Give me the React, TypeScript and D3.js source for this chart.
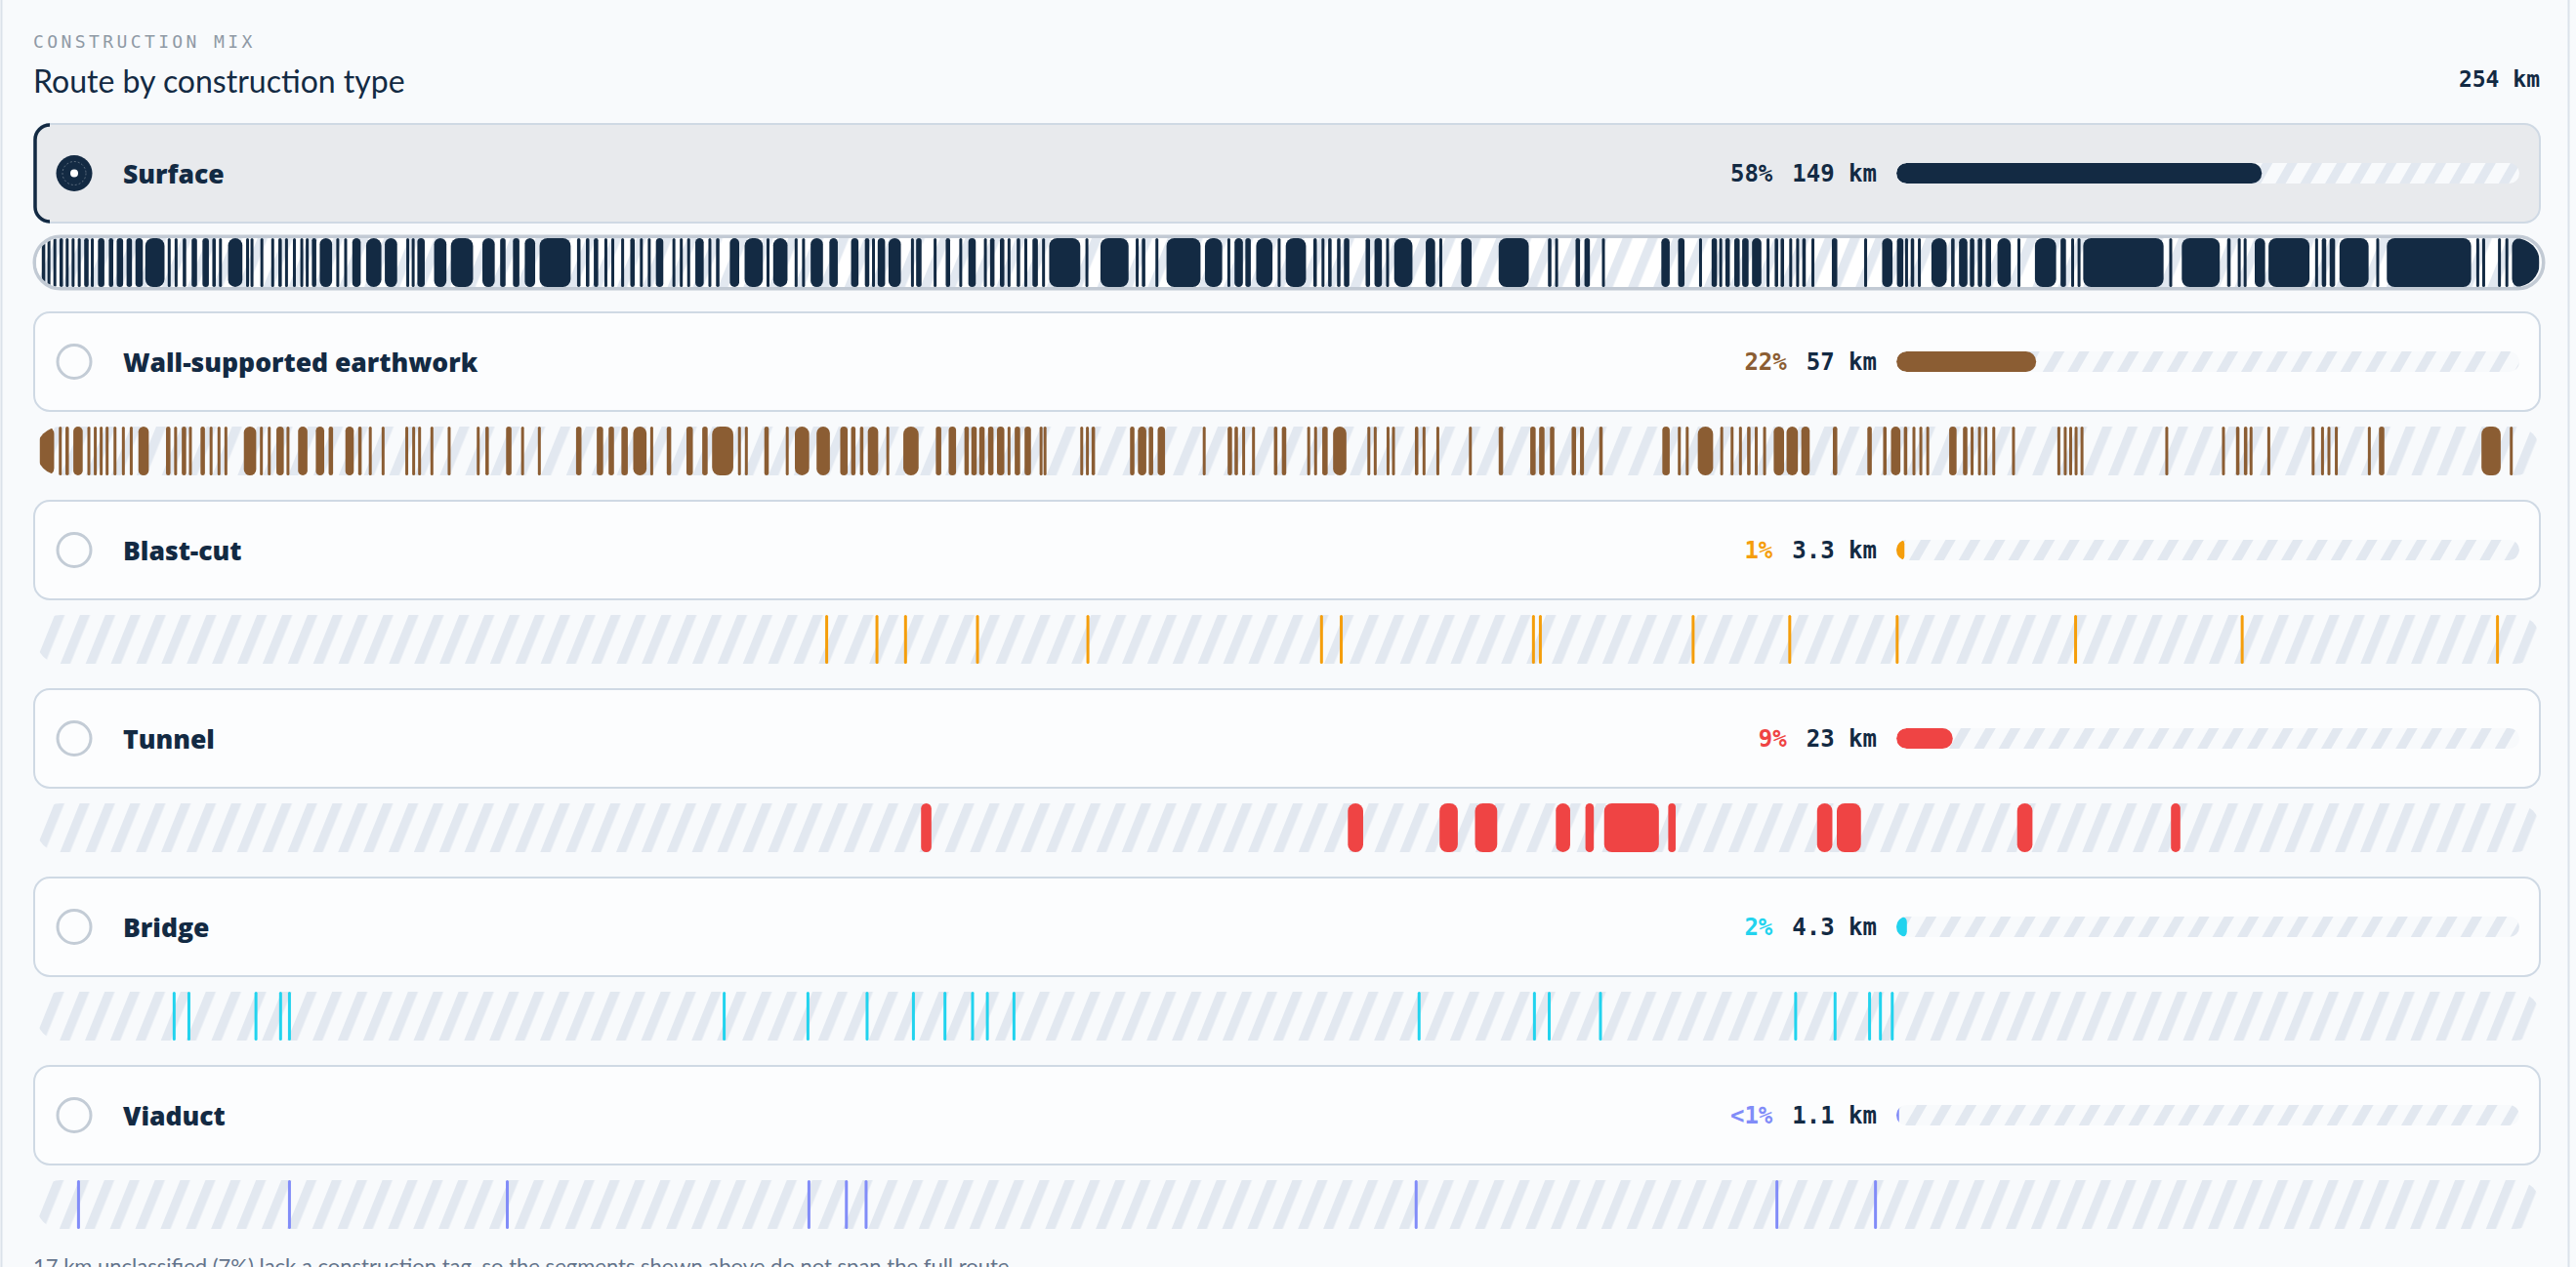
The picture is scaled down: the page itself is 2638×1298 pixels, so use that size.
import React from 'react';
import * as d3 from 'd3';

type Seg = [number, number];

// Route totals
const routeKm = 254;
const unclassifiedKm = 17;
const unclassifiedPct = '7%';

// Construction types, as listed top to bottom
const typeNames = ['Surface', 'Wall-supported earthwork', 'Blast-cut', 'Tunnel', 'Bridge', 'Viaduct'];
const typeKm = [149, 57, 3.3, 23, 4.3, 1.1];
const typePctLabels = ['58%', '22%', '1%', '9%', '2%', '<1%'];
const typeColors = ['#132a43', '#8b5d33', '#f59e0b', '#ef4444', '#22d3ee', '#818cf8'];

// Segments along the route, [start km, end km]
const surfaceSegs: Seg[] = [
  [0.5, 1.0], [1.1, 1.5], [1.7, 2.1], [2.3, 2.8], [3.0, 3.3], [3.6, 3.9], [4.15, 4.6], [4.8, 5.4], [5.5, 5.9],
  [6.2, 7.0], [7.3, 7.9], [8.1, 8.9], [9.1, 9.8], [10.0, 10.9], [11.0, 13.1], [13.3, 13.7], [14.0, 14.4],
  [14.8, 15.3], [15.7, 16.4], [16.8, 17.6], [17.8, 18.3], [18.6, 18.8], [19.4, 21.0], [21.3, 21.6], [21.7, 22.1],
  [22.7, 23.1], [23.8, 24.2], [24.5, 25.0], [25.2, 25.6], [26.0, 26.4], [26.8, 27.1], [27.4, 27.6], [27.9, 28.5],
  [28.7, 30.1], [30.4, 30.8], [31.2, 31.6], [32.0, 33.0], [33.4, 35.1], [35.3, 36.7], [37.6, 37.8], [38.1, 38.4],
  [38.6, 39.5], [40.3, 41.7], [42.0, 44.4], [45.2, 46.6], [47.0, 47.7], [48.3, 49.1], [49.5, 50.7], [51.0, 54.3],
  [54.8, 55.3], [55.7, 56.2], [56.5, 57.1], [57.6, 58.0], [58.3, 58.7], [59.3, 59.7], [60.2, 60.8], [61.2, 61.6],
  [62.0, 62.4], [62.8, 63.7], [64.5, 64.9], [65.3, 65.6], [66.0, 66.4], [66.8, 67.8], [68.2, 68.5], [68.9, 69.4],
  [70.3, 71.4], [71.8, 73.8], [74.1, 74.4], [74.7, 76.3], [76.9, 77.3], [77.7, 78.0], [78.5, 79.9], [80.4, 81.4],
  [82.6, 83.5], [84.0, 84.6], [84.8, 85.1], [85.3, 86.2], [86.4, 87.8], [88.8, 89.0], [89.2, 89.9], [91.0, 91.4],
  [92.2, 92.8], [93.6, 94.0], [94.5, 95.4], [96.1, 96.5], [96.7, 97.3], [97.7, 98.3], [98.5, 98.9], [99.4, 99.9],
  [100.2, 100.6], [101.0, 101.7], [102.0, 102.4], [102.7, 106.0], [106.4, 106.8], [107.9, 110.9], [111.5, 111.9],
  [112.1, 112.6], [113.5, 113.9], [114.6, 118.2], [118.5, 120.4], [120.8, 121.2], [121.5, 122.5], [122.6, 123.3],
  [123.7, 125.5], [125.9, 126.3], [126.7, 128.9], [129.5, 130.0], [130.4, 130.7], [131.0, 131.5], [131.9, 132.4],
  [132.6, 133.3], [134.8, 135.4], [135.7, 136.6], [136.9, 137.3], [137.7, 139.7], [140.9, 142.0], [142.3, 142.7],
  [144.5, 145.7], [148.3, 151.5], [153.3, 153.8], [154.1, 154.4], [156.1, 156.7], [157.0, 157.7], [158.8, 159.2],
  [164.8, 165.8], [166.5, 167.3], [168.7, 169.0], [169.9, 170.6], [170.7, 171.1], [171.3, 171.9], [172.2, 172.9],
  [173.0, 173.8], [174.0, 175.1], [175.5, 175.9], [176.3, 176.8], [176.9, 177.4], [177.8, 178.2], [178.5, 178.9],
  [179.1, 179.6], [180.1, 180.4], [182.1, 182.8], [185.4, 185.8], [187.2, 188.4], [188.7, 189.5], [189.6, 189.9],
  [190.1, 190.6], [190.9, 191.2], [192.2, 193.9], [194.2, 194.7], [195.0, 196.0], [196.1, 196.7], [196.9, 197.5],
  [197.7, 198.4], [198.9, 200.4], [201.0, 201.3], [202.7, 205.0], [205.3, 206.0], [206.4, 206.8], [207.1, 207.4],
  [207.6, 215.9], [216.4, 216.7], [217.6, 221.6], [222.2, 222.7], [223.3, 223.7], [224.0, 224.2], [225.0, 226.2],
  [226.4, 230.7], [231.2, 231.5], [231.8, 232.4], [232.6, 233.3], [233.6, 236.7], [237.4, 237.7], [238.4, 247.1],
  [247.5, 247.9], [248.2, 248.4], [249.7, 250.1], [250.5, 250.8], [251.1, 254.0],
];

const earthworkSegs: Seg[] = [
  [0.3, 1.9], [2.3, 2.6], [2.9, 3.4], [3.7, 4.8], [5.2, 5.5], [5.8, 6.2], [6.5, 6.7], [7.0, 7.4], [7.8, 8.2],
  [8.7, 9.0], [9.5, 9.8], [10.3, 11.5], [13.1, 13.7], [14.0, 14.3], [14.7, 15.3], [15.5, 15.8], [16.6, 17.2],
  [17.6, 17.9], [18.4, 18.7], [19.1, 19.4], [21.0, 22.4], [22.7, 23.0], [23.5, 23.8], [24.3, 25.2], [25.4, 25.7],
  [26.5, 27.6], [28.3, 29.3], [29.6, 30.2], [31.3, 32.3], [32.6, 33.1], [33.7, 34.1], [35.1, 35.3], [37.4, 37.8],
  [38.1, 38.5], [38.8, 39.0], [40.0, 40.3], [41.7, 42.1], [44.7, 45.0], [45.5, 46.0], [47.6, 48.3], [49.2, 49.5],
  [50.9, 51.2], [54.7, 55.4], [56.8, 57.6], [58.0, 58.7], [59.3, 60.1], [60.5, 62.0], [62.3, 62.6], [63.9, 64.5],
  [65.9, 66.7], [67.5, 68.2], [68.5, 70.8], [71.2, 71.5], [71.9, 72.2], [73.8, 74.4], [76.0, 76.4], [76.9, 78.5],
  [79.1, 80.6], [81.5, 82.4], [82.6, 83.2], [83.5, 84.0], [84.3, 85.5], [86.2, 86.6], [87.9, 89.6], [91.2, 91.9],
  [92.5, 93.4], [94.1, 94.7], [94.8, 95.5], [95.6, 96.3], [96.5, 97.2], [97.4, 98.3], [98.5, 98.9], [99.2, 99.9],
  [100.2, 101.0], [101.8, 102.1], [102.2, 102.5], [105.95, 106.2], [106.5, 106.8], [107.0, 107.5], [110.9, 111.5],
  [111.7, 112.7], [112.8, 113.4], [113.7, 114.6], [118.3, 118.7], [120.8, 121.4], [121.5, 122.0], [122.3, 122.7],
  [123.3, 123.7], [125.5, 126.0], [126.3, 126.9], [128.9, 129.3], [129.6, 130.0], [130.4, 131.1], [131.5, 133.0],
  [135.0, 135.4], [135.7, 136.0], [137.0, 137.3], [137.5, 137.9], [139.8, 140.3], [140.6, 141.0], [142.0, 142.4],
  [145.3, 145.7], [148.3, 148.9], [151.5, 152.2], [152.4, 153.1], [153.5, 154.1], [155.7, 156.3], [156.55, 157.1],
  [158.5, 159.0], [164.9, 165.8], [166.5, 166.9], [167.3, 167.7], [168.5, 170.2], [170.8, 171.2], [171.9, 172.2],
  [172.7, 173.1], [173.5, 174.0], [174.4, 174.6], [175.2, 175.5], [176.2, 177.4], [177.5, 178.8], [179.0, 180.0],
  [182.2, 182.8], [185.7, 186.3], [187.3, 187.8], [188.1, 189.2], [189.4, 189.9], [190.3, 190.7], [191.0, 191.4],
  [191.7, 192.1], [194.0, 194.9], [195.4, 196.0], [196.2, 196.6], [197.0, 197.3], [197.6, 198.0], [198.4, 198.8],
  [200.4, 200.8], [205.0, 205.4], [205.7, 206.0], [206.3, 206.5], [206.8, 207.1], [207.4, 207.7], [216.0, 216.3],
  [221.8, 222.0], [223.1, 223.6], [223.9, 224.4], [224.6, 224.8], [226.3, 226.7], [230.8, 231.2], [231.8, 232.1],
  [232.4, 232.8], [233.2, 233.5], [236.5, 236.9], [237.6, 238.3], [248.0, 250.1], [250.9, 251.3],
];

const blastCutSegs: Seg[] = [
  [80.1, 80.3], [85.2, 85.4], [88.1, 88.3], [95.4, 95.6], [106.6, 106.8], [130.3, 130.5], [132.3, 132.5],
  [151.8, 152.0], [152.5, 152.7], [167.9, 168.3], [177.8, 178.0], [188.7, 188.9], [206.8, 207.0],
  [223.7, 223.9], [249.6, 249.8],
];

const tunnelSegs: Seg[] = [
  [89.7, 90.9], [133.0, 134.7], [142.3, 144.3], [145.9, 148.3], [154.1, 155.7], [157.1, 158.1],
  [159.0, 164.7], [165.5, 166.4], [180.6, 182.3], [182.6, 185.2], [200.9, 202.6], [216.5, 217.6],
];

const bridgeSegs: Seg[] = [
  [13.9, 14.1], [15.4, 15.6], [22.2, 22.4], [24.7, 24.9], [25.6, 25.8], [69.7, 69.9], [78.2, 78.4],
  [84.2, 84.4], [88.9, 89.1], [92.1, 92.3], [94.9, 95.1], [96.4, 96.6], [99.1, 99.3], [140.2, 140.4],
  [151.9, 152.1], [153.4, 153.6], [158.6, 158.8], [178.4, 178.6], [182.4, 182.6], [185.9, 186.1],
  [187.0, 187.2], [188.2, 188.4],
];

const viaductSegs: Seg[] = [
  [4.2, 4.4], [25.6, 25.8], [47.7, 47.9], [78.3, 78.5], [82.1, 82.3], [84.1, 84.3], [139.9, 140.1],
  [176.5, 176.7], [186.5, 186.7],
];

const typeSegs = [surfaceSegs, earthworkSegs, blastCutSegs, tunnelSegs, bridgeSegs, viaductSegs];

const W = 2638;
const H = 1298;
const LEFT = 35;
const RIGHT = 2601;
const ROW_TOP = 127;
const ROW_STEP = 193;
const CARD_H = 101;
const STRIP_OFF = 117;
const STRIP_H = 50;
const BAR_X = 1942;
const BAR_W = 638;
const BAR_H = 21;

const NAVY = '#132a43';
const MONO = '"DejaVu Sans Mono", "Liberation Mono", monospace';
const SANS = 'Lato, "Noto Sans", sans-serif';
const HEAVY = '"Open Sans", Lato, sans-serif';

export default function App() {
  const x = d3.scaleLinear().domain([0, routeKm]).range([LEFT + 2, RIGHT]);
  const barW = d3.scaleLinear().domain([0, routeKm]).range([0, BAR_W]);

  return (
    <div style={{ position: 'absolute', left: 0, top: 0, width: W, height: H, overflow: 'hidden', background: '#f8fafc' }}>
      <svg width={W} height={H} style={{ display: 'block' }}>
        <defs>
          <pattern id="hatch-strip" width={24} height={20} patternUnits="userSpaceOnUse" patternTransform="rotate(22)">
            <rect width={24} height={20} fill="#f8fafc" />
            <rect width={9.5} height={20} fill="#e2e8f0" />
          </pattern>
          <pattern id="hatch-strip-sel" width={24} height={20} patternUnits="userSpaceOnUse" patternTransform="rotate(22)">
            <rect width={24} height={20} fill="#ffffff" />
            <rect width={9.5} height={20} fill="#e2e8f0" />
          </pattern>
          <pattern id="hatch-bar" width={22} height={20} patternUnits="userSpaceOnUse" patternTransform="rotate(30)">
            <rect width={22} height={20} fill="#f8fafc" />
            <rect width={9} height={20} fill="#e2e8f0" />
          </pattern>
          {typeNames.map((_, i) => {
            const top = ROW_TOP + i * ROW_STEP;
            const cy = top + CARD_H / 2;
            const st = top + STRIP_OFF;
            return (
              <React.Fragment key={i}>
                <clipPath id={`strip-clip-${i}`}>
                  <rect x={LEFT + 2} y={st} width={RIGHT - LEFT - 2} height={STRIP_H} rx={STRIP_H / 2} />
                </clipPath>
                <clipPath id={`bar-clip-${i}`}>
                  <rect x={BAR_X} y={cy - BAR_H / 2} width={BAR_W} height={BAR_H} rx={BAR_H / 2} />
                </clipPath>
              </React.Fragment>
            );
          })}
        </defs>

        {/* panel frame */}
        <rect x={1.5} y={-20} width={2629} height={H + 40} fill="#f8fafc" stroke="#dbe2ea" strokeWidth={2} />

        {/* header */}
        <text x={34} y={42} dominantBaseline="central" fontFamily={MONO} fontSize={18} letterSpacing={3.4} fill="#8f99a5">
          CONSTRUCTION MIX
        </text>
        <text x={34} y={82} dominantBaseline="central" fontFamily={SANS} fontSize={32} fill={NAVY}>
          Route by construction type
        </text>
        <text x={RIGHT} y={81} dominantBaseline="central" textAnchor="end" fontFamily={MONO} fontWeight={700} fontSize={23} fill={NAVY}>
          {`${routeKm} km`}
        </text>

        {typeNames.map((name, i) => {
          const top = ROW_TOP + i * ROW_STEP;
          const cy = top + CARD_H / 2;
          const st = top + STRIP_OFF;
          const sel = i === 0;
          const color = typeColors[i];
          const kmLabel = `${typeKm[i]} km`;
          const kmStart = BAR_X - 20 - kmLabel.length * 0.602 * 24;
          const fillW = barW(typeKm[i]);
          return (
            <g key={name}>
              {/* card */}
              <rect x={LEFT} y={top} width={RIGHT - LEFT} height={CARD_H} rx={16}
                fill={sel ? '#e8eaed' : '#fcfdfe'} stroke="#cfd9e4" strokeWidth={2} />
              {sel && (
                <path d={`M${LEFT + 16},${top + 1} A15,15 0 0 0 ${LEFT + 1},${top + 16} L${LEFT + 1},${top + CARD_H - 16} A15,15 0 0 0 ${LEFT + 16},${top + CARD_H - 1}`}
                  fill="none" stroke={NAVY} strokeWidth={3.5} />
              )}

              {/* radio */}
              {sel ? (
                <g>
                  <circle cx={76} cy={cy} r={18.5} fill={NAVY} />
                  <circle cx={76} cy={cy} r={12} fill="none" stroke="rgba(255,255,255,0.3)" strokeWidth={1} strokeDasharray="2 2" />
                  <circle cx={76} cy={cy} r={4} fill="#ffffff" />
                </g>
              ) : (
                <circle cx={76} cy={cy} r={17} fill="#fcfdfe" stroke="#c3ccd6" strokeWidth={3} />
              )}

              <text x={126} y={cy} dominantBaseline="central" fontFamily={HEAVY} fontWeight={800} fontSize={26.5} fill={NAVY}>
                {name}
              </text>

              {/* share and length */}
              <text x={kmStart - 20} y={cy} dominantBaseline="central" textAnchor="end" fontFamily={MONO} fontWeight={700} fontSize={24} fill={color}>
                {typePctLabels[i]}
              </text>
              <text x={BAR_X - 20} y={cy} dominantBaseline="central" textAnchor="end" fontFamily={MONO} fontWeight={700} fontSize={24} fill={NAVY}>
                {kmLabel}
              </text>

              {/* share bar */}
              <g clipPath={`url(#bar-clip-${i})`}>
                <rect x={BAR_X} y={cy - BAR_H / 2} width={BAR_W} height={BAR_H} fill="url(#hatch-bar)" />
                <rect x={BAR_X} y={cy - BAR_H / 2} width={fillW} height={BAR_H} rx={Math.min(fillW / 2, BAR_H / 2)} fill={color} />
              </g>

              {/* route strip */}
              {sel && (
                <rect x={LEFT + 0.25} y={st - 1.75} width={RIGHT - LEFT + 3.5} height={STRIP_H + 3.5} rx={(STRIP_H + 3.5) / 2}
                  fill="none" stroke="#c2cad4" strokeWidth={3.5} />
              )}
              <g clipPath={`url(#strip-clip-${i})`}>
                <rect x={LEFT + 2} y={st} width={RIGHT - LEFT - 2} height={STRIP_H} fill={sel ? 'url(#hatch-strip-sel)' : 'url(#hatch-strip)'} />
                {typeSegs[i].map(([a, b], j) => {
                  const x0 = x(a);
                  const x1 = x(b);
                  const w = Math.max(3, x1 - x0 - 1.5);
                  return (
                    <rect key={j} x={(x0 + x1) / 2 - w / 2} y={st} width={w} height={STRIP_H}
                      rx={Math.min(w / 2, 8)} fill={color} />
                  );
                })}
              </g>
            </g>
          );
        })}

        <text x={34} y={1305} fontFamily={SANS} fontSize={22} fill="#64748b">
          {`${unclassifiedKm} km unclassified (${unclassifiedPct}) lack a construction tag, so the segments shown above do not span the full route`}
        </text>
      </svg>
    </div>
  );
}
